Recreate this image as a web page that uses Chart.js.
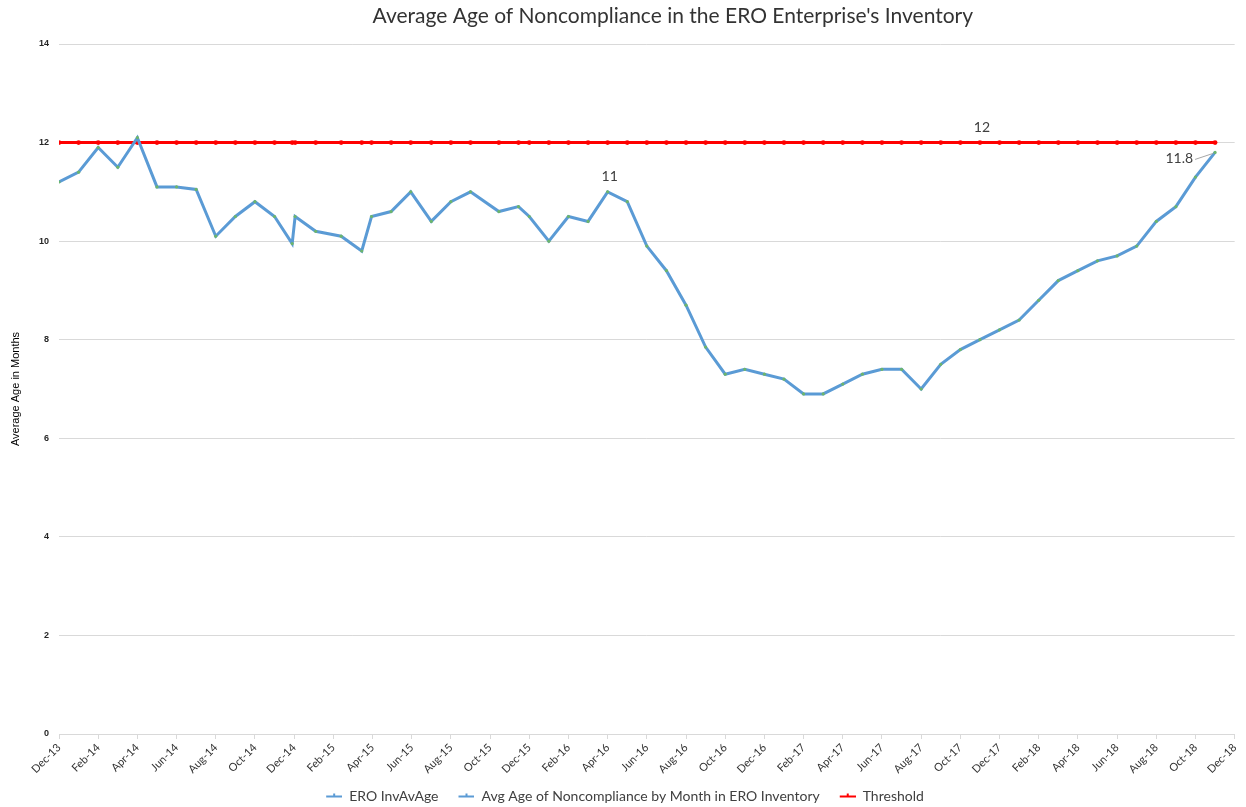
<!DOCTYPE html>
<html>
<head>
<meta charset="utf-8">
<title>Average Age of Noncompliance</title>
<script src="https://cdn.jsdelivr.net/npm/chart.js@4.4.1/dist/chart.umd.min.js"></script>
<style>
  html, body { margin: 0; padding: 0; background: #fff; overflow: hidden; }
  canvas { display: block; }
</style>
</head>
<body>
<canvas id="mycanvas" width="1246" height="813"></canvas>
<script>
// x = months after Dec-13 (a few points fall mid-month)
var months = [0, 1, 2, 3, 4, 5, 6, 7, 8, 9, 10, 11, 11.9, 12.05, 13.1, 14.4, 15.45, 15.95, 16.95, 17.95,
  19, 20, 21, 22.45, 23.45, 24, 25, 26, 27, 28, 29, 30, 31, 32, 33, 34, 35, 36, 37, 38,
  39, 40, 41, 42, 43, 44, 45, 46, 47, 48, 49, 50, 51, 52, 53, 54, 55, 56, 57, 58, 59];

var avgAge = [11.2, 11.4, 11.9, 11.5, 12.1, 11.1, 11.1, 11.05, 10.1, 10.5, 10.8, 10.5, 9.95, 10.5, 10.2, 10.1, 9.8, 10.5, 10.6, 11.0,
  10.4, 10.8, 11.0, 10.6, 10.7, 10.5, 10.0, 10.5, 10.4, 11.0, 10.8, 9.9, 9.4, 8.7, 7.85, 7.3, 7.4, 7.3, 7.2, 6.9,
  6.9, 7.1, 7.3, 7.4, 7.4, 7.0, 7.5, 7.8, 8.0, 8.2, 8.4, 8.8, 9.2, 9.4, 9.6, 9.7, 9.9, 10.4, 10.7, 11.3, 11.8];

var threshold = months.map(function(){ return 12; });

var tickLabels = ["Dec-13", "Feb-14", "Apr-14", "Jun-14", "Aug-14", "Oct-14", "Dec-14", "Feb-15", "Apr-15", "Jun-15",
  "Aug-15", "Oct-15", "Dec-15", "Feb-16", "Apr-16", "Jun-16", "Aug-16", "Oct-16", "Dec-16", "Feb-17",
  "Apr-17", "Jun-17", "Aug-17", "Oct-17", "Dec-17", "Feb-18", "Apr-18", "Jun-18", "Aug-18", "Oct-18", "Dec-18"];

var chartTitle = "Average Age of Noncompliance in the ERO Enterprise's Inventory";

// labelled points: [dataset, index, text]
var callouts = [[1, 29, "11"], [2, 48, "12"], [1, 60, "11.8"]];

var blue = "#5b9bd5";
var red = "#ff0000";

function xy(vals) {
  var out = [];
  for (var i in months) {
    out.push({x: months[i], y: vals[i]});
  }
  return out;
}

// legend key: short line with a dot, left 10px kept empty as extra gap
function legendKey(color) {
  var c = document.createElement("canvas");
  c.width = 26; c.height = 7;
  var g = c.getContext("2d");
  g.strokeStyle = color;
  g.lineWidth = 2;
  g.beginPath(); g.moveTo(10, 4); g.lineTo(26, 4); g.stroke();
  g.fillStyle = color;
  g.fillRect(17, 1, 2, 4);
  return c;
}
var keys = [legendKey(blue), legendKey(blue), legendKey(red)];

var calloutPlugin = {
  id: "callouts",
  afterDatasetsDraw: function(chart) {
    var ctx = chart.ctx;
    ctx.save();
    ctx.font = "14px Lato";
    ctx.fillStyle = "#404040";
    ctx.textBaseline = "middle";
    callouts.forEach(function(c) {
      var pt = chart.getDatasetMeta(c[0]).data[c[1]];
      if (c[2] == "11.8") {
        ctx.textAlign = "right";
        ctx.fillText(c[2], pt.x - 22, pt.y + 6);
        ctx.strokeStyle = "#a6a6a6";
        ctx.lineWidth = 1;
        ctx.beginPath();
        ctx.moveTo(pt.x - 20, pt.y + 7);
        ctx.lineTo(pt.x - 2, pt.y + 1);
        ctx.stroke();
      } else {
        ctx.textAlign = "center";
        ctx.fillText(c[2], pt.x + 2, pt.y - 15);
      }
    });
    // title sits a little right of centre in the original
    ctx.font = "21px Lato";
    ctx.fillStyle = "#333333";
    ctx.textAlign = "center";
    ctx.fillText(chartTitle, chart.chartArea.left + chart.chartArea.width / 2 + 26, 16);
    ctx.restore();
  }
};

var chartdata = {
  datasets: [
    {
      label: "ERO InvAvAge",
      data: xy(avgAge),
      borderColor: blue,
      borderWidth: 1,
      pointRadius: 1.6,
      pointBorderWidth: 0,
      pointBackgroundColor: "#6cb56c",
      tension: 0
    },
    {
      label: "Avg Age of Noncompliance by Month in ERO Inventory",
      data: xy(avgAge),
      borderColor: blue,
      backgroundColor: blue,
      borderWidth: 3,
      pointRadius: 0,
      tension: 0
    },
    {
      label: "Threshold",
      data: xy(threshold),
      borderColor: red,
      backgroundColor: red,
      borderWidth: 3,
      pointRadius: 2.4,
      pointBorderWidth: 0,
      pointBackgroundColor: red,
      tension: 0
    }
  ]
};

var ctx = document.getElementById("mycanvas");

var LineGraph = new Chart(ctx, {
  type: "line",
  data: chartdata,
  plugins: [calloutPlugin],
  options: {
    responsive: false,
    animation: false,
    events: [],
    layout: { padding: { left: 0, right: 6, top: 44, bottom: 0 } },
    plugins: {
      title: { display: false },
      legend: {
        position: "bottom",
        labels: {
          color: "#404040",
          font: { family: "Lato", size: 14 },
          usePointStyle: true,
          pointStyleWidth: 26,
          padding: 10,
          generateLabels: function(chart) {
            var items = Chart.defaults.plugins.legend.labels.generateLabels(chart);
            items.forEach(function(it) { it.pointStyle = keys[it.datasetIndex]; });
            return items;
          }
        }
      },
      tooltip: { enabled: false }
    },
    scales: {
      x: {
        type: "linear",
        min: 0,
        max: 60,
        afterFit: function(scale) { scale.height = 45; },
        ticks: {
          stepSize: 2,
          autoSkip: false,
          minRotation: 45,
          maxRotation: 45,
          padding: 2,
          color: "#333333",
          font: { family: "Lato", size: 11 },
          callback: function(value) { return tickLabels[Math.round(value / 2)]; }
        },
        grid: { drawOnChartArea: false, drawTicks: true, tickLength: 5, color: "#d9d9d9" },
        border: { display: true, color: "#d9d9d9" }
      },
      y: {
        min: 0,
        max: 14,
        afterFit: function(scale) { scale.width = 59; },
        ticks: {
          stepSize: 2,
          padding: 10,
          color: "#262626",
          font: { family: "Liberation Sans", size: 9, weight: "bold" }
        },
        grid: { color: "#d9d9d9", drawTicks: false },
        border: { display: false },
        title: {
          display: true,
          text: "Average Age in Months",
          color: "#000000",
          font: { family: "Liberation Sans", size: 11 },
          padding: { top: 9.5, bottom: 0 }
        }
      }
    }
  }
});
</script>
</body>
</html>
